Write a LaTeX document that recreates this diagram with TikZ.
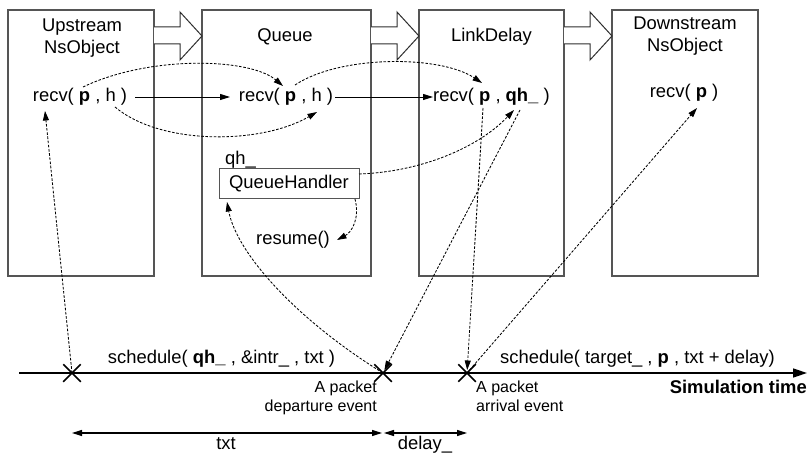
\documentclass[tikz,border=0pt]{standalone}
\usepackage{fontspec}
\setmainfont{Liberation Sans}
\usetikzlibrary{arrows.meta,shapes.misc}
\definecolor{framegray}{HTML}{555555}
\definecolor{arrowgray}{HTML}{2E2E2E}
\begin{document}
\begin{tikzpicture}[x=1pt,y=-1pt,
  font=\fontsize{18.4}{22}\selectfont,
  obj/.style={draw=framegray,line width=1.1pt,minimum height=266pt,inner sep=0pt},
  lab/.style={inner sep=0pt,anchor=base},
  evlabel/.style={font=\fontsize{16}{19}\selectfont,inner sep=0pt},
  pass/.style={draw=arrowgray,fill=white,line width=1pt,line join=miter},
  msg/.style={-{Triangle[length=10pt,width=6pt]},line width=0.9pt},
  call/.style={-{Triangle[length=9.5pt,width=6pt]},line width=0.85pt,dash pattern=on 2.6pt off 1.6pt},
  evt/.style={cross out,draw,line width=1.5pt,minimum size=16pt,inner sep=0pt},
  dimline/.style={{Triangle[length=10pt,width=6pt]}-{Triangle[length=10pt,width=6pt]},line width=1.2pt}
]
\useasboundingbox (0,0) rectangle (808,454);

% network objects
\node[obj,minimum width=146pt] (up)    at (81,143)    {};
\node[obj,minimum width=169pt] (queue) at (286.5,143) {};
\node[obj,minimum width=145pt] (link)  at (491.5,143) {};
\node[obj,minimum width=146pt] (down)  at (685,143)   {};

% hollow arrows showing the packet path
\filldraw[pass] (154,27) -- (180,27) -- (180,12) -- (202,36) -- (180,60) -- (180,44) -- (154,44);
\filldraw[pass] (371,27) -- (397,27) -- (397,12) -- (419,36) -- (397,60) -- (397,44) -- (371,44);
\filldraw[pass] (564,27) -- (590,27) -- (590,12) -- (612,36) -- (590,60) -- (590,44) -- (564,44);

% titles
\node[inner sep=0pt,align=center] (upT) at (82,38.5) {Upstream\\NsObject};
\node[lab] (queueT) at (285,42) {Queue};
\node[lab] (linkT) at (491.5,42) {LinkDelay};
\node[inner sep=0pt,align=center] (downT) at (685,36.5) {Downstream\\NsObject};

% recv calls
\node[lab] (upR)    at (80,102)    {recv( \textbf{p} , h )};
\node[lab] (queueR) at (286,102)   {recv( \textbf{p} , h )};
\node[lab] (linkR)  at (491.5,102) {recv( \textbf{p} , \textbf{qh\_} )};
\node[lab] (downR)  at (684,98)    {recv( \textbf{p} )};

% queue handler
\node[lab,anchor=base west] (qhT) at (225,165) {qh\_};
\node[draw=framegray,line width=1pt,minimum width=140pt,minimum height=30pt,inner sep=0pt] (qh) at (289,184) {QueueHandler};
\node[lab] (resume) at (293,245) {resume()};

% timeline
\coordinate (t0) at (19,373);
\coordinate (t1) at (807,373);
\draw[line width=1.5pt,-{Triangle[length=14pt,width=9pt]}] (t0) -- (t1);
\node[evt] (e1) at (72,373) {};
\node[evt] (e2) at (383,373) {};
\node[evt] (e3) at (467,373) {};

\node[lab] (sch1) at (221.5,363) {schedule( \textbf{qh\_} , \&intr\_ , txt )};
\node[lab] (sch2) at (637.5,363) {schedule( target\_ , \textbf{p} , txt + delay)};
\node[evlabel,align=right,anchor=north east] (dep) at (377,381) {A packet\\departure event};
\node[evlabel,align=left,anchor=north west] (arr) at (476,381) {A packet\\arrival event};
\node[lab,anchor=base east,font=\fontsize{18.4}{22}\selectfont\bfseries] (simt) at (807,393) {Simulation time};

% interval marks
\coordinate (dA) at (72,433);
\coordinate (dB) at (382,433);
\coordinate (dC) at (384,433);
\coordinate (dD) at (467,433);
\draw[dimline] (dA) -- (dB);
\draw[dimline] (dC) -- (dD);
\node[lab] (txtL) at (226,449) {txt};
\node[lab] (delL) at (425,449) {delay\_};

% call-point coordinates
\coordinate (upRc)   at (135,97);
\coordinate (queueRl) at (230,97);
\coordinate (queueRr) at (335,97);
\coordinate (linkRl) at (433,97);
\coordinate (upPtop) at (83,87);
\coordinate (qPin)   at (283,86);
\coordinate (upHbot) at (115,107);
\coordinate (qHin)   at (317,112);
\coordinate (qPtop)  at (295,85);
\coordinate (lPin)   at (482,83);
\coordinate (qhOut)  at (359,174);
\coordinate (lQHin)  at (514,110);
\coordinate (lQHout) at (520,110);
\coordinate (lPbot)  at (483,108);
\coordinate (dPin)   at (697,108);
\coordinate (upIn)   at (45,111);
\coordinate (qhIn)   at (227,202);
\coordinate (qhBot)  at (355,199);
\coordinate (resIn)  at (337,240);

% direct calls
\draw[msg] (upRc) -- (queueRl);
\draw[msg] (queueRr) -- (linkRl);

% packet and handler hand-over
\draw[call] (upPtop) .. controls (150,55) and (250,58) .. (qPin);
\draw[call] (upHbot) .. controls (160,145) and (260,145) .. (qHin);
\draw[call] (qPtop) .. controls (340,55) and (440,55) .. (lPin);
\draw[call] (qhOut) .. controls (420,172) and (478,148) .. (lQHin);
\draw[call] (qhBot) .. controls (360,218) and (352,232) .. (resIn);

% scheduler links
\draw[call] (e1.center) -- (upIn);
\draw[call] (e2.center) .. controls (300,322) and (237,255) .. (qhIn);
\draw[call,shorten >=3pt] (lQHout) -- (e2.center);
\draw[call,shorten >=3pt] (lPbot) -- (e3.center);
\draw[call] (e3.center) -- (dPin);
\end{tikzpicture}
\end{document}
